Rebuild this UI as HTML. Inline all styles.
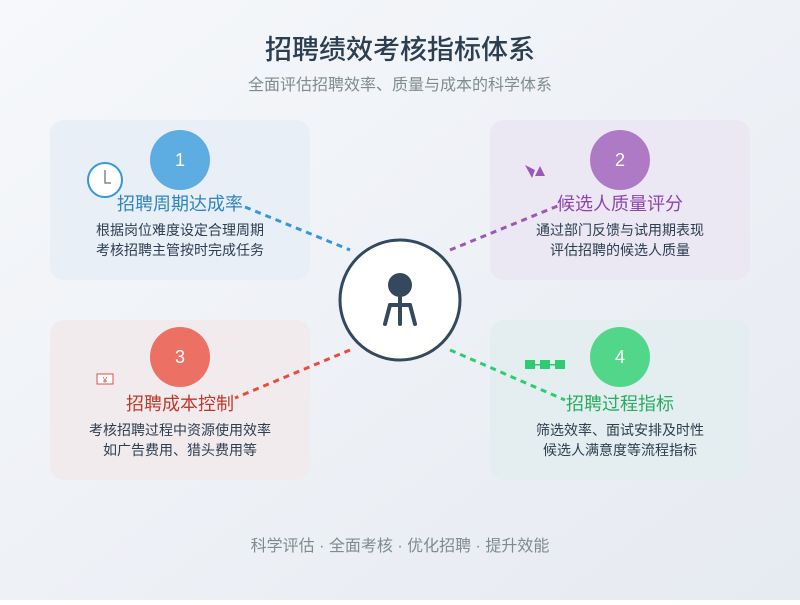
<!DOCTYPE html>
<html><head><meta charset="utf-8"><style>
body{margin:0;width:800px;height:600px;overflow:hidden}
text{font-family:"Liberation Sans","Noto Sans CJK SC",sans-serif}
</style></head><body>
<svg width="800" height="600" viewBox="0 0 800 600" xmlns="http://www.w3.org/2000/svg">
<defs><linearGradient id="bg" x1="0" y1="0" x2="1" y2="1"><stop offset="0" stop-color="#f6f8fb"/><stop offset="1" stop-color="#e6eaf1"/></linearGradient></defs>
<rect width="800" height="600" fill="url(#bg)"/>
<text x="400" y="59" text-anchor="middle" font-size="27" font-weight="500" fill="#2c3e50">招聘绩效考核指标体系</text>
<text x="400" y="90" text-anchor="middle" font-size="16" fill="#7f8c8d">全面评估招聘效率、质量与成本的科学体系</text>
<rect x="50" y="120" width="260" height="160" rx="14" fill="#e9eff7"/>
<rect x="490" y="120" width="260" height="160" rx="14" fill="#ebe7f3"/>
<rect x="50" y="320" width="260" height="160" rx="14" fill="#f2ebee"/>
<rect x="490" y="320" width="260" height="160" rx="14" fill="#e4edef"/>
<g stroke-width="3" stroke-dasharray="6,5" fill="none">
<line x1="245" y1="207" x2="350" y2="250" stroke="#3498db"/>
<line x1="450" y1="250" x2="560" y2="205" stroke="#9b59b6"/>
<line x1="350" y1="350" x2="235" y2="398" stroke="#e74c3c"/>
<line x1="450" y1="350" x2="565" y2="400" stroke="#2ecc71"/>
</g>
<circle cx="180" cy="160" r="30" fill="#5dade2"/>
<circle cx="620" cy="160" r="30" fill="#af7ac5"/>
<circle cx="180" cy="357" r="30" fill="#ec7063"/>
<circle cx="620" cy="357" r="30" fill="#52d68a"/>
<g font-size="18" fill="#fff" text-anchor="middle"><text x="180" y="166">1</text><text x="620" y="166">2</text><text x="180" y="363">3</text><text x="620" y="363">4</text></g>
<circle cx="105" cy="180" r="17" fill="#fff" stroke="#3498db" stroke-width="2"/>
<path d="M105 170V183H111" stroke="#7f8c8d" stroke-width="1.5" fill="none"/>
<path d="M525 165L532 178L535 170Z M535 176L540 166L545 176Z" fill="#9b59b6"/>
<rect x="97" y="374" width="16" height="10" fill="#fff" stroke="#e74c3c" stroke-width="1"/>
<text x="105" y="383" font-size="8" fill="#e74c3c" text-anchor="middle">¥</text>
<g fill="#2ecc71"><rect x="525" y="360" width="10" height="9"/><rect x="540" y="360" width="10" height="9"/><rect x="555" y="360" width="10" height="9"/><rect x="525" y="364" width="40" height="1.5"/></g>
<g font-size="18" text-anchor="middle">
<text x="180" y="210" fill="#2e86c1">招聘周期达成率</text>
<text x="620" y="210" fill="#8e44ad">候选人质量评分</text>
<text x="180" y="410" fill="#c0392b">招聘成本控制</text>
<text x="620" y="410" fill="#27ae60">招聘过程指标</text>
</g>
<g font-size="14" text-anchor="middle" fill="#2c3e50">
<text x="180" y="235">根据岗位难度设定合理周期</text><text x="180" y="255">考核招聘主管按时完成任务</text>
<text x="620" y="235">通过部门反馈与试用期表现</text><text x="620" y="255">评估招聘的候选人质量</text>
<text x="180" y="435">考核招聘过程中资源使用效率</text><text x="180" y="455">如广告费用、猎头费用等</text>
<text x="620" y="435">筛选效率、面试安排及时性</text><text x="620" y="455">候选人满意度等流程指标</text>
</g>
<circle cx="400" cy="300" r="60" fill="#fff" stroke="#34495e" stroke-width="3"/>
<circle cx="400" cy="285" r="12" fill="#34495e"/>
<g stroke="#34495e" stroke-width="4" stroke-linecap="round" fill="none">
<path d="M390 305H410"/><path d="M400 297V324"/><path d="M390 305L385 324"/><path d="M410 305L415 324"/>
</g>
<text x="400" y="551" text-anchor="middle" font-size="16" fill="#7f8c8d">科学评估 · 全面考核 · 优化招聘 · 提升效能</text>
</svg>
</body></html>
